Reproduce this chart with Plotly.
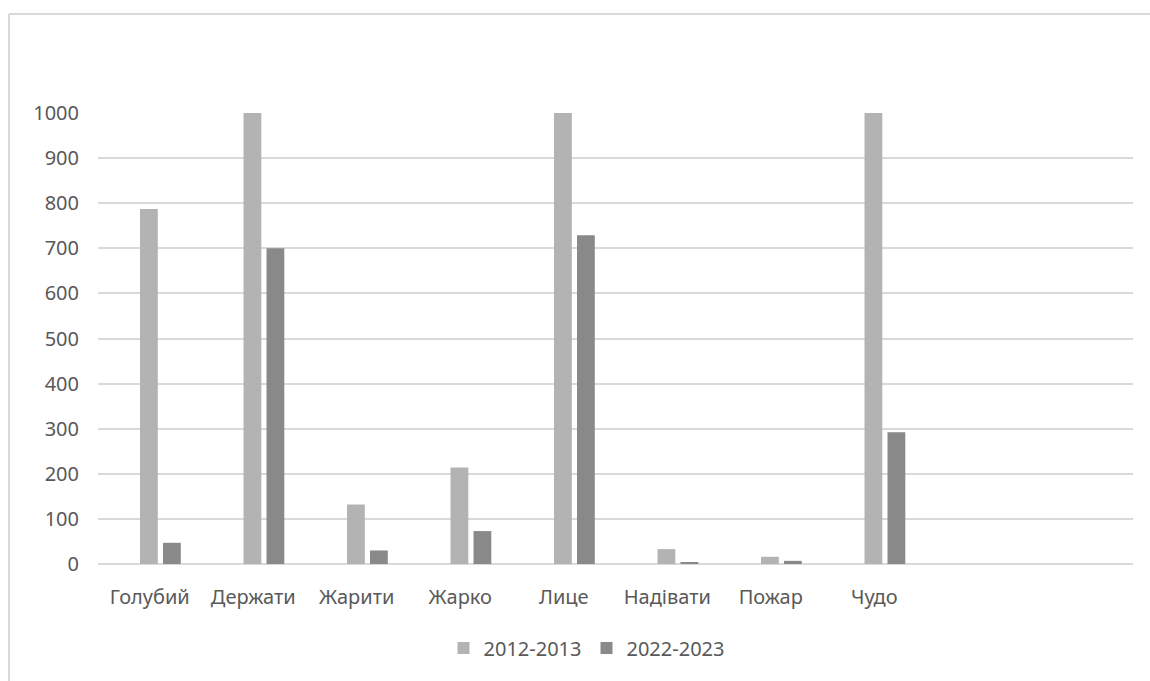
import plotly.graph_objects as go

categories = ["Голубий", "Держати", "Жарити", "Жарко", "Лице", "Надівати", "Пожар", "Чудо"]
series_names = ["2012-2013", "2022-2023"]
values_2012 = [787, 1000, 132, 214, 1000, 33, 16, 1000]
values_2022 = [47, 700, 30, 73, 729, 4, 7, 292]
y_ticks = [0, 100, 200, 300, 400, 500, 600, 700, 800, 900, 1000]

positions = list(range(len(categories)))
font_family = "Noto Sans"
text_color = "#595959"
grid_color = "#d9d9d9"

fig = go.Figure()
fig.add_trace(go.Bar(
    x=positions, y=values_2012, name=series_names[0],
    marker=dict(color="#b3b3b3", line=dict(width=0)),
    width=0.172, offset=-0.094,
))
fig.add_trace(go.Bar(
    x=positions, y=values_2022, name=series_names[1],
    marker=dict(color="#898989", line=dict(width=0)),
    width=0.172, offset=0.128,
))

border_left = (9 - 98) / 1035
border_top = (564 - 14) / 451

fig.update_layout(
    width=1150, height=681,
    margin=dict(l=98, r=17, t=113, b=117),
    paper_bgcolor="white", plot_bgcolor="white",
    font=dict(family=font_family, size=20, color=text_color),
    barmode="overlay",
    showlegend=True,
    legend=dict(
        orientation="h", x=0.472, xanchor="center", y=-0.186, yanchor="middle",
        font=dict(size=20, color=text_color), itemwidth=30, traceorder="normal",
    ),
    xaxis=dict(
        range=[-0.5, 9.5], tickmode="array", tickvals=positions, ticktext=categories,
        showgrid=False, zeroline=False, showline=False, ticks="",
        ticklabelstandoff=19, fixedrange=True,
    ),
    yaxis=dict(
        range=[0, 1000], tickmode="array", tickvals=y_ticks,
        showgrid=True, gridcolor=grid_color, gridwidth=2,
        zeroline=True, zerolinecolor=grid_color, zerolinewidth=2,
        showline=False, ticks="", ticklabelstandoff=18, fixedrange=True,
    ),
    shapes=[
        dict(type="line", xref="paper", yref="paper",
             x0=border_left, x1=1.2, y0=border_top, y1=border_top,
             line=dict(color=grid_color, width=2), layer="below"),
        dict(type="line", xref="paper", yref="paper",
             x0=border_left, x1=border_left, y0=border_top, y1=-0.5,
             line=dict(color=grid_color, width=2), layer="below"),
    ],
)

fig.write_html("out.html", config={"displayModeBar": False})
